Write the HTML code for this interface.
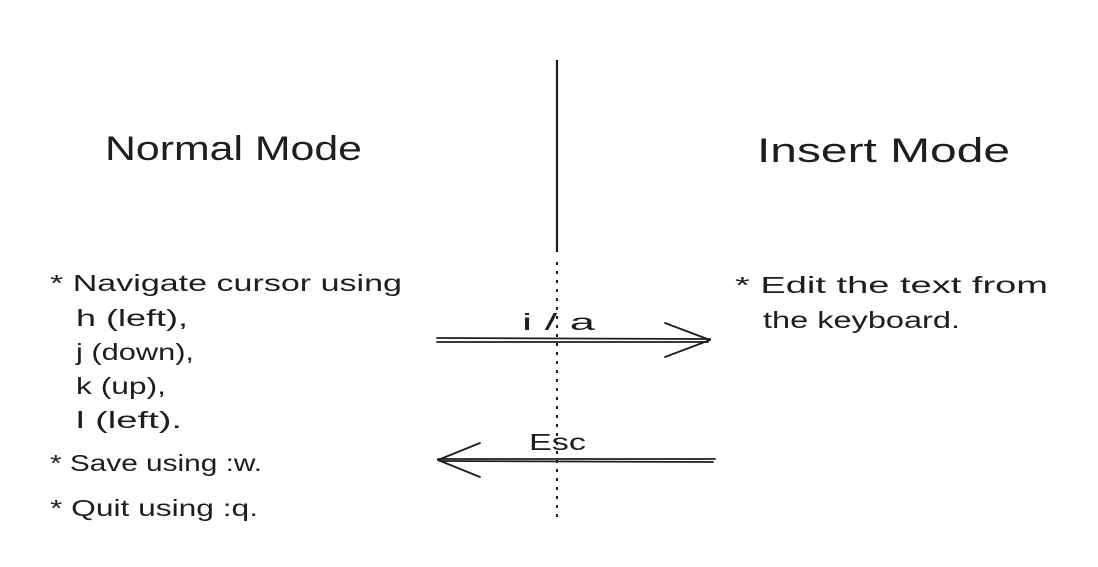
<!DOCTYPE html>
<html><head><meta charset="utf-8"><style>
html,body{margin:0;padding:0;background:#fff;}
svg{display:block;}
text{font-family:"Liberation Sans",sans-serif;fill:#1e1e1e;}
</style></head><body>
<svg width="1098" height="567" viewBox="0 0 1098 567" xmlns="http://www.w3.org/2000/svg">
<rect width="1098" height="567" fill="#fff"/>
<text x="105" y="160" font-size="34" textLength="257" lengthAdjust="spacingAndGlyphs">Normal Mode</text>
<text x="757" y="162" font-size="34" textLength="253" lengthAdjust="spacingAndGlyphs">Insert Mode</text>
<line x1="557" y1="60" x2="557" y2="252" stroke="#1e1e1e" stroke-width="2.2"/>
<line x1="557" y1="262" x2="557" y2="520" stroke="#1e1e1e" stroke-width="2" stroke-dasharray="3,6"/>
<g font-size="23">
<text x="50" y="291" textLength="352" lengthAdjust="spacingAndGlyphs">* Navigate cursor using</text>
<text x="76" y="326" textLength="112" lengthAdjust="spacingAndGlyphs">h (left),</text>
<text x="76" y="360" textLength="118" lengthAdjust="spacingAndGlyphs">j (down),</text>
<text x="76" y="394" textLength="90" lengthAdjust="spacingAndGlyphs">k (up),</text>
<text x="76" y="428" textLength="106" lengthAdjust="spacingAndGlyphs">l (left).</text>
<text x="50" y="471" textLength="212" lengthAdjust="spacingAndGlyphs">* Save using :w.</text>
<text x="50" y="516" textLength="208" lengthAdjust="spacingAndGlyphs">* Quit using :q.</text>
<text x="735" y="293" textLength="313" lengthAdjust="spacingAndGlyphs">* Edit the text from</text>
<text x="763" y="328" textLength="197" lengthAdjust="spacingAndGlyphs">the keyboard.</text>
<text x="522" y="330" textLength="73" lengthAdjust="spacingAndGlyphs">i / a</text>
<text x="529" y="450" textLength="57" lengthAdjust="spacingAndGlyphs">Esc</text>
</g>
<g stroke="#1e1e1e" stroke-width="1.8" fill="none" stroke-linecap="round">
<line x1="437" y1="338" x2="710" y2="339"/>
<line x1="437" y1="342" x2="708" y2="342"/>
<line x1="665" y1="323" x2="710" y2="340"/>
<line x1="665" y1="357" x2="710" y2="340"/>
<line x1="715" y1="459" x2="438" y2="459"/>
<line x1="713" y1="462" x2="440" y2="461"/>
<line x1="480" y1="443" x2="438" y2="460"/>
<line x1="480" y1="477" x2="438" y2="460"/>
</g>
</svg>
</body></html>
